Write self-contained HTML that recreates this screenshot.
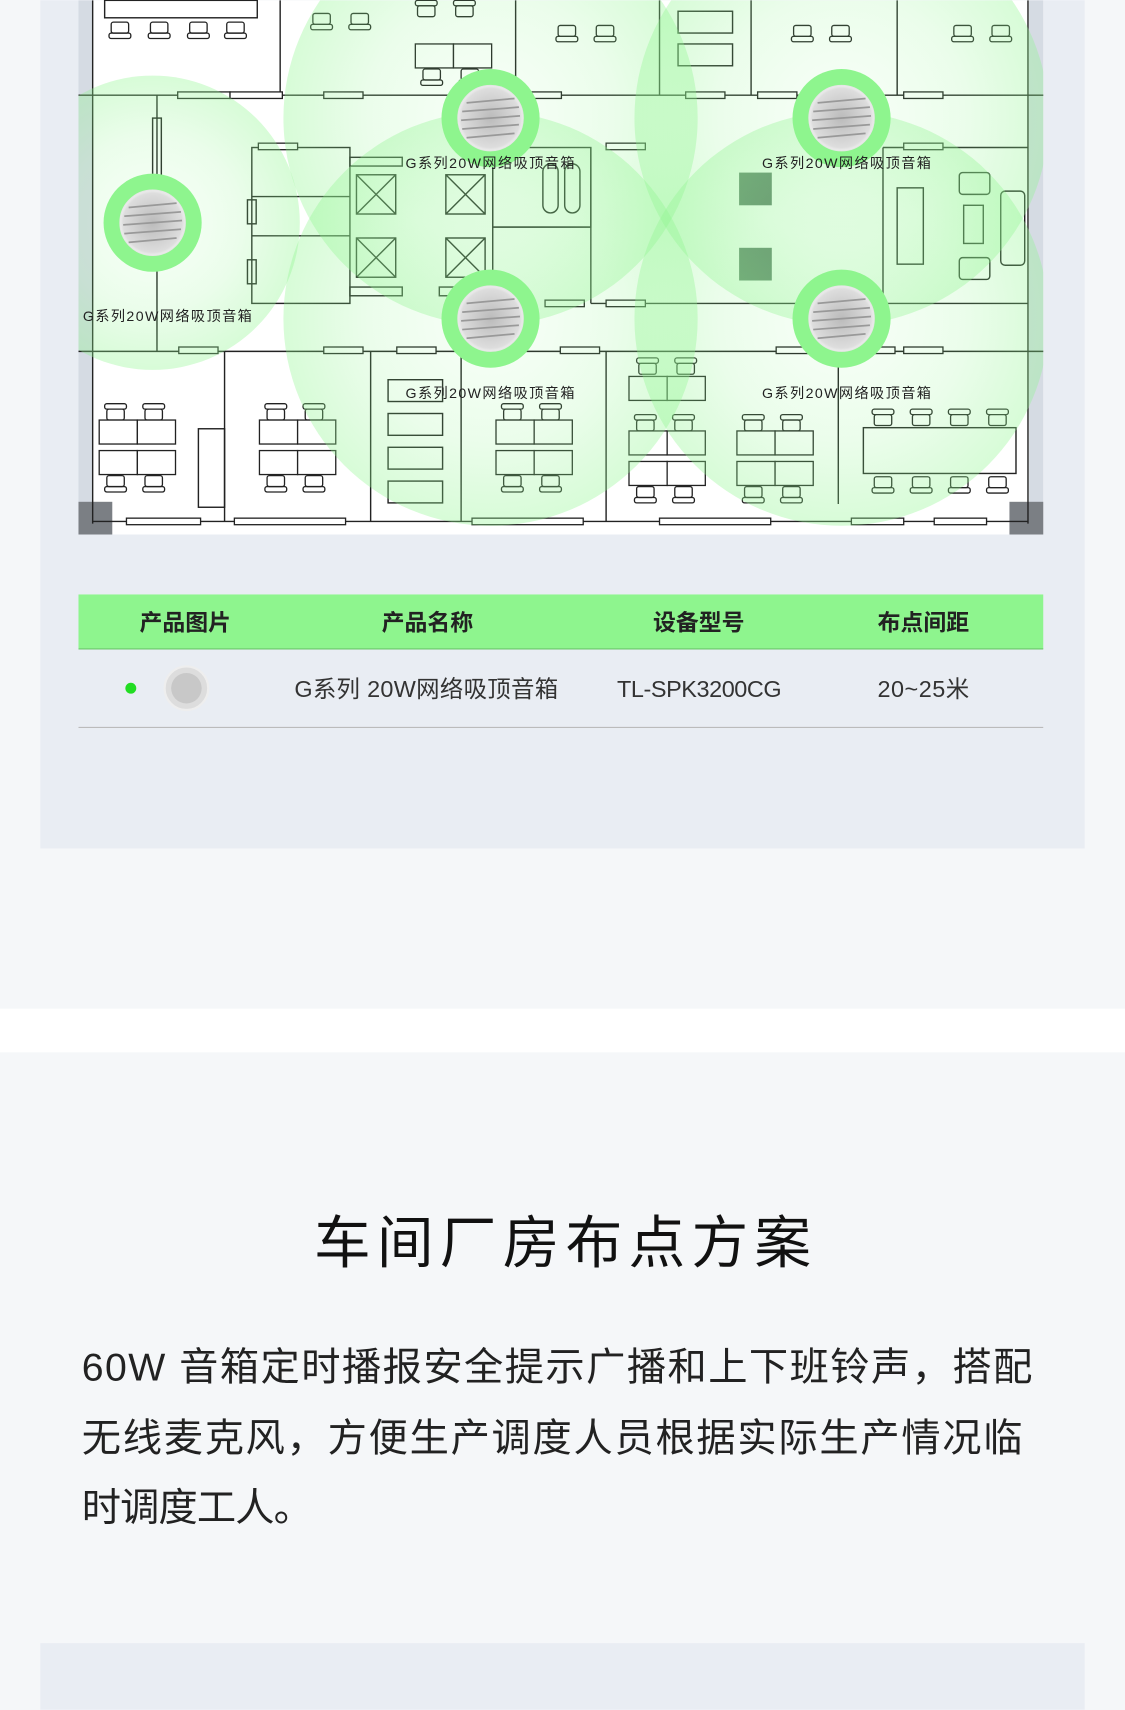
<!DOCTYPE html>
<html><head><meta charset="utf-8"><style>
html,body{margin:0;padding:0;background:#f5f7f9;}
svg{display:block;}
text{font-family:"Liberation Sans","Noto Sans CJK SC",sans-serif;}
</style></head><body>
<svg width="1125" height="1710" viewBox="0 0 1032 1568" xmlns="http://www.w3.org/2000/svg">
<defs>
<clipPath id="pc"><rect x="72" y="0" width="885" height="490"/></clipPath>
<radialGradient id="cov">
<stop offset="0" stop-color="#8ef58e" stop-opacity="0.05"/>
<stop offset="0.6" stop-color="#8ef58e" stop-opacity="0.18"/>
<stop offset="1" stop-color="#8ef58e" stop-opacity="0.35"/>
</radialGradient>
<radialGradient id="spk">
<stop offset="0" stop-color="#bbb"/><stop offset="0.9" stop-color="#ddd"/><stop offset="1" stop-color="#eee"/>
</radialGradient>
<g id="chair" fill="#fff" stroke="#222" stroke-width="1.2">
<rect x="0" y="0" width="20" height="5" rx="2"/><rect x="2" y="5" width="16" height="10" rx="2"/>
</g>
<g id="desk4" fill="#fff" stroke="#222" stroke-width="1.2">
<use href="#chair" x="5" y="0"/><use href="#chair" x="40" y="0"/>
<rect x="0" y="15" width="35" height="22"/><rect x="35" y="15" width="35" height="22"/>
<rect x="0" y="43" width="35" height="22"/><rect x="35" y="43" width="35" height="22"/>
<use href="#chair" transform="translate(5,81) scale(1,-1)"/><use href="#chair" transform="translate(40,81) scale(1,-1)"/>
</g>
<g id="spc">
<circle r="45" fill="#8ef58e"/>
<circle r="30" fill="url(#spk)" stroke="#e6e6e6"/>
<g stroke="#999" stroke-width="1.6">
<line x1="-22" y1="-14" x2="22" y2="-18"/><line x1="-26" y1="-6" x2="26" y2="-10"/><line x1="-27" y1="2" x2="27" y2="-2"/><line x1="-26" y1="10" x2="26" y2="6"/><line x1="-22" y1="18" x2="22" y2="14"/>
</g>
</g>
</defs>
<rect width="1032" height="1568" fill="#f5f7f9"/>
<rect x="37" y="0" width="958" height="778" fill="#e9edf3"/>
<rect x="72" y="0" width="885" height="490" fill="#fff"/>
<rect x="72" y="0" width="13" height="490" fill="#d5dbe3"/>
<rect x="944" y="0" width="13" height="490" fill="#d5dbe3"/>
<rect x="72" y="460" width="31" height="30" fill="#7b7f84"/>
<rect x="926" y="460" width="31" height="30" fill="#7b7f84"/>
<g fill="none" stroke="#222" stroke-width="1.3">
<line x1="85" y1="0" x2="85" y2="480"/><line x1="943" y1="0" x2="943" y2="480"/>
<line x1="72" y1="87" x2="957" y2="87"/>
<line x1="72" y1="322" x2="957" y2="322"/>
<line x1="85" y1="478" x2="943" y2="478"/>
<line x1="257" y1="0" x2="257" y2="87"/><line x1="473" y1="0" x2="473" y2="87"/><line x1="605" y1="0" x2="605" y2="87"/><line x1="689" y1="0" x2="689" y2="87"/><line x1="823" y1="0" x2="823" y2="87"/>
<line x1="144" y1="87" x2="144" y2="322"/>
<rect x="231" y="135" width="90" height="143"/><line x1="231" y1="180" x2="321" y2="180"/><line x1="231" y1="216" x2="321" y2="216"/>
<rect x="452" y="135" width="90" height="73"/><line x1="542" y1="135" x2="542" y2="278"/>
<line x1="542" y1="278" x2="943" y2="278"/><line x1="810" y1="135" x2="943" y2="135"/><line x1="810" y1="135" x2="810" y2="278"/>
<line x1="452" y1="208" x2="542" y2="208"/><line x1="452" y1="135" x2="452" y2="262"/>
<line x1="206" y1="322" x2="206" y2="478"/><line x1="340" y1="322" x2="340" y2="478"/><line x1="423" y1="322" x2="423" y2="478"/><line x1="556" y1="322" x2="556" y2="478"/><line x1="769" y1="322" x2="769" y2="462"/>
<rect x="182" y="393" width="24" height="72"/>
<rect x="327" y="160" width="36" height="36"/><path d="M327 160L363 196M363 160L327 196"/>
<rect x="327" y="218" width="36" height="36"/><path d="M327 218L363 254M363 218L327 254"/>
<rect x="409" y="160" width="36" height="36"/><path d="M409 160L445 196M445 160L409 196"/>
<rect x="409" y="218" width="36" height="36"/><path d="M409 218L445 254M445 218L409 254"/>
<rect x="321" y="144" width="48" height="8"/><rect x="321" y="263" width="48" height="8"/><rect x="403" y="263" width="48" height="8"/>
<rect x="140" y="108" width="8" height="75"/>
<rect x="227" y="183" width="8" height="22"/><rect x="227" y="238" width="8" height="22"/>
<rect x="498" y="150" width="14" height="45" rx="7"/><rect x="518" y="150" width="14" height="45" rx="7"/>
<rect x="823" y="172" width="24" height="70"/>
<rect x="884" y="188" width="18" height="35"/><rect x="918" y="175" width="22" height="68" rx="4"/>
<rect x="880" y="158" width="28" height="20" rx="3"/><rect x="880" y="236" width="28" height="20" rx="3"/>
<rect x="792" y="392" width="140" height="42"/>
<rect x="356" y="348" width="50" height="20"/><rect x="356" y="379" width="50" height="20"/><rect x="356" y="410" width="50" height="20"/><rect x="356" y="441" width="50" height="20"/>
<rect x="622" y="10" width="50" height="20"/><rect x="622" y="40" width="50" height="20"/>
<rect x="96" y="0" width="140" height="16"/>
</g>
<g fill="#fff" stroke="#222" stroke-width="1.2">
<rect x="163" y="84" width="48" height="6"/><rect x="211" y="84" width="48" height="6"/><rect x="297" y="84" width="36" height="6"/><rect x="479" y="84" width="36" height="6"/><rect x="629" y="84" width="36" height="6"/><rect x="695" y="84" width="36" height="6"/><rect x="829" y="84" width="36" height="6"/>
<rect x="237" y="131" width="36" height="6"/><rect x="556" y="131" width="36" height="6"/><rect x="829" y="131" width="36" height="6"/>
<rect x="500" y="275" width="36" height="6"/><rect x="556" y="275" width="36" height="6"/>
<rect x="164" y="318" width="36" height="6"/><rect x="297" y="318" width="36" height="6"/><rect x="364" y="318" width="36" height="6"/><rect x="514" y="318" width="36" height="6"/><rect x="712" y="318" width="36" height="6"/><rect x="785" y="318" width="36" height="6"/><rect x="829" y="318" width="36" height="6"/>
<rect x="116" y="475" width="68" height="6"/><rect x="215" y="475" width="102" height="6"/><rect x="433" y="475" width="102" height="6"/><rect x="605" y="475" width="102" height="6"/><rect x="781" y="475" width="48" height="6"/><rect x="857" y="475" width="48" height="6"/>
</g>
<use href="#desk4" x="91" y="370"/><use href="#desk4" x="238" y="370"/><use href="#desk4" x="455" y="370"/>
<use href="#desk4" x="577" y="380"/><use href="#desk4" x="676" y="380"/>
<g fill="#fff" stroke="#222" stroke-width="1.2"><rect x="577" y="345" width="35" height="22"/><rect x="612" y="345" width="35" height="22"/><use href="#chair" x="584" y="328"/><use href="#chair" x="619" y="328"/>
<use href="#chair" x="381" y="0"/><use href="#chair" x="416" y="0"/><rect x="381" y="40" width="35" height="22"/><rect x="416" y="40" width="35" height="22"/><use href="#chair" transform="translate(386,78) scale(1,-1)"/><use href="#chair" transform="translate(421,78) scale(1,-1)"/>
<use href="#chair" transform="translate(100,35) scale(1,-1)"/><use href="#chair" transform="translate(136,35) scale(1,-1)"/><use href="#chair" transform="translate(172,35) scale(1,-1)"/><use href="#chair" transform="translate(206,35) scale(1,-1)"/>
<use href="#chair" transform="translate(285,27) scale(1,-1)"/><use href="#chair" transform="translate(320,27) scale(1,-1)"/>
<use href="#chair" transform="translate(510,38) scale(1,-1)"/><use href="#chair" transform="translate(545,38) scale(1,-1)"/>
<use href="#chair" transform="translate(726,38) scale(1,-1)"/><use href="#chair" transform="translate(761,38) scale(1,-1)"/>
<use href="#chair" transform="translate(873,38) scale(1,-1)"/><use href="#chair" transform="translate(908,38) scale(1,-1)"/>
<use href="#chair" x="800" y="375"/><use href="#chair" x="835" y="375"/><use href="#chair" x="870" y="375"/><use href="#chair" x="905" y="375"/>
<use href="#chair" transform="translate(800,452) scale(1,-1)"/><use href="#chair" transform="translate(835,452) scale(1,-1)"/><use href="#chair" transform="translate(870,452) scale(1,-1)"/><use href="#chair" transform="translate(905,452) scale(1,-1)"/>
</g>
<rect x="678" y="158" width="30" height="30" fill="#5f7a6a"/><rect x="678" y="227" width="30" height="30" fill="#5f7a6a"/>
<g clip-path="url(#pc)">
<circle cx="450" cy="108" r="190" fill="url(#cov)"/><circle cx="772" cy="108" r="190" fill="url(#cov)"/>
<circle cx="450" cy="292" r="190" fill="url(#cov)"/><circle cx="772" cy="292" r="190" fill="url(#cov)"/>
<circle cx="140" cy="204" r="135" fill="url(#cov)"/>
</g>
<use href="#spc" x="450" y="108"/><use href="#spc" x="772" y="108"/><use href="#spc" x="450" y="292"/><use href="#spc" x="772" y="292"/><use href="#spc" x="140" y="204"/>
<g font-size="13" fill="#222">
<text x="372" y="154" textLength="155">G系列20W网络吸顶音箱</text><text x="699" y="154" textLength="155">G系列20W网络吸顶音箱</text>
<text x="76" y="294" textLength="155">G系列20W网络吸顶音箱</text><text x="372" y="365" textLength="155">G系列20W网络吸顶音箱</text><text x="699" y="365" textLength="155">G系列20W网络吸顶音箱</text>
</g>
<rect x="72" y="545" width="885" height="50" fill="#8ef58e"/>
<line x1="72" y1="595" x2="957" y2="595" stroke="#6cc86c"/>
<g font-size="21" font-weight="bold" fill="#222" text-anchor="middle">
<text x="170" y="578">产品图片</text><text x="392" y="578">产品名称</text><text x="641" y="578">设备型号</text><text x="847" y="578">布点间距</text>
</g>
<circle cx="120" cy="631" r="5" fill="#22dd22"/>
<circle cx="171" cy="631" r="20" fill="#ddd" stroke="#eee" stroke-width="2"/><circle cx="171" cy="631" r="14" fill="#c8c8c8"/>
<g font-size="21.5" fill="#333">
<text x="270" y="639" textLength="242">G系列 20W网络吸顶音箱</text><text x="566" y="639" textLength="151">TL-SPK3200CG</text><text x="805" y="639" textLength="84">20~25米</text>
</g>
<line x1="72" y1="667" x2="957" y2="667" stroke="#bbb"/>
<rect x="0" y="925" width="1032" height="40" fill="#fff"/>
<text x="288" y="1158" font-size="52" fill="#111" textLength="456">车间厂房布点方案</text>
<g font-size="36" fill="#222">
<text x="75" y="1266" textLength="872">60W 音箱定时播报安全提示广播和上下班铃声，搭配</text>
<text x="75" y="1331" textLength="863">无线麦克风，方便生产调度人员根据实际生产情况临</text>
<text x="75" y="1395" textLength="212">时调度工人。</text>
</g>
<rect x="37" y="1507" width="958" height="61" fill="#e9edf3"/>
</svg>
</body></html>
